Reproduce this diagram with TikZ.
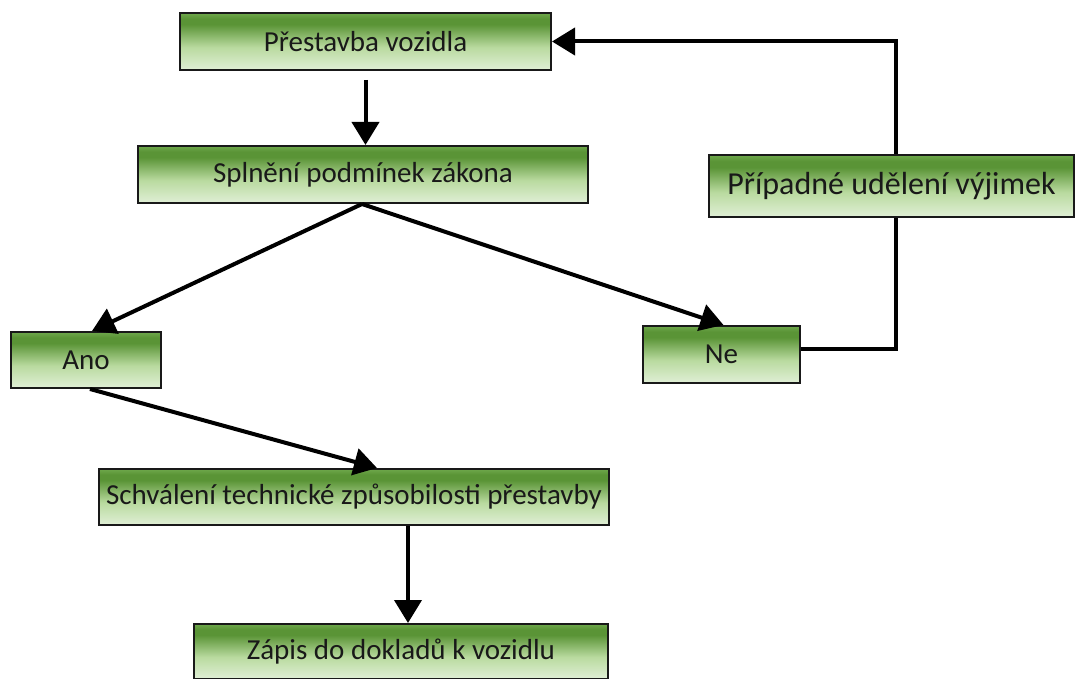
\documentclass[tikz,border=0pt]{standalone}
\usepackage{fontspec}
\setmainfont{Carlito}
\usetikzlibrary{arrows.meta,calc}
\definecolor{gbot}{HTML}{E0EFD6}
\definecolor{gmid}{HTML}{B9DA9F}
\definecolor{gdark}{HTML}{5A9436}
\definecolor{gtop}{HTML}{6FA84C}
\pgfdeclareverticalshading{boxgrad}{100bp}{color(0bp)=(gbot); color(25bp)=(gbot); color(45bp)=(gmid); color(65bp)=(gdark); color(70bp)=(gdark); color(75bp)=(gtop); color(100bp)=(gtop)}
\tikzset{
  box/.style={draw=black!90, line width=1pt, shading=boxgrad, inner sep=0pt,
    font=\fontsize{14.5}{17}\selectfont, text=black!90},
  bigtext/.style={font=\fontsize{16}{19}\selectfont},
  arr/.style={line width=2pt, -{Triangle[length=11.5pt,width=13.5pt]}},
  conn/.style={line width=2pt}
}
\begin{document}
\begin{tikzpicture}[x=0.5pt,y=-0.5pt]
\useasboundingbox (0,0) rectangle (1076,679);
\node[box, minimum width=185.5pt, minimum height=28.5pt] (p) at (365.5,41.5) {Přestavba vozidla};
\node[box, minimum width=225pt, minimum height=28.5pt] (s) at (363,174.5) {Splnění podmínek zákona};
\node[box, bigtext, minimum width=182.5pt, minimum height=31pt] (pr) at (891.5,186) {Případné udělení výjimek};
\node[box, minimum width=75pt, minimum height=28pt] (a) at (86,360) {Ano};
\node[box, minimum width=78.5pt, minimum height=28.5pt] (n) at (721.5,354.5) {Ne};
\node[box, minimum width=255pt, minimum height=28pt] (sc) at (354,497) {Schválení technické způsobilosti přestavby};
\node[box, minimum width=207pt, minimum height=27.5pt] (z) at (401,651.5) {Zápis do dokladů k vozidlu};
% connectors
\draw[arr] ($(p.south)+(0,9)$) -- (p.south |- s.north);
\draw[arr] ($(s.south)+(-1,0)$) -- ($(a.north)+(6,0)$);
\draw[arr] ($(s.south)+(-1,0)$) -- ($(n.north)+(2,0)$);
\draw[arr] ($(a.south)+(4,0)$) -- ($(sc.north)+(23,0)$);
\draw[arr] ($(sc.south)+(54,0)$) -- ($(z.north)+(7,0)$);
\draw[conn] ($(n.east)+(0,-5.5)$) -| ($(pr.south)+(4.5,0)$);
\draw[arr] ($(pr.north)+(4.5,0)$) |- (p.east);
\end{tikzpicture}
\end{document}
